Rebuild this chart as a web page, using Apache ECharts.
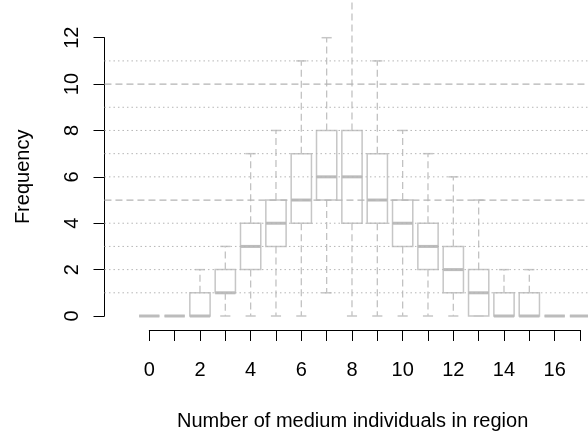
<!DOCTYPE html>
<html>
<head>
<meta charset="utf-8">
<script src="https://cdn.jsdelivr.net/npm/echarts@6/dist/echarts.min.js"></script>
<style>
  html, body { margin: 0; padding: 0; background: #fff; }
  #chart { width: 588px; height: 431px; }
</style>
</head>
<body>
<div id="chart"></div>
<script>
// counts per region, one box per category
const categories = [0, 1, 2, 3, 4, 5, 6, 7, 8, 9, 10, 11, 12, 13, 14, 15, 16, 17];
const mins    = [0, 0, 0, 0, 0, 0, 0, 1, 0, 0, 0, 0, 0, 0, 0, 0, 0, 0];
const q1s     = [0, 0, 0, 1, 2, 3, 4, 5, 4, 4, 3, 2, 1, 0, 0, 0, 0, 0];
const medians = [0, 0, 0, 1, 3, 4, 5, 6, 6, 5, 4, 3, 2, 1, 0, 0, 0, 0];
const q3s     = [0, 0, 1, 2, 4, 5, 7, 8, 8, 7, 5, 4, 3, 2, 1, 1, 0, 0];
const maxs    = [0, 0, 2, 3, 7, 8, 11, 12, 14, 11, 8, 7, 6, 5, 2, 2, 0, 0];

const yTicks = [0, 2, 4, 6, 8, 10, 12];
const dottedLevels = [1, 2, 3, 4, 6, 7, 8, 9, 11];
const dashedLevels = [5, 10];

const FONT = 'Liberation Sans, Arial, sans-serif';
const BOX_WIDTH = 0.8;   // in category units
const GRID_FROM = -1.77; // grid lines start at the y axis
const GRID_TO = 18;

const boxData = categories.map((c, i) => [c, mins[i], q1s[i], medians[i], q3s[i], maxs[i]]);

function renderBox(params, api) {
  const x = api.value(0);
  const w = api.size([BOX_WIDTH, 0])[0];
  const cap = w / 2;
  const p = k => api.coord([x, api.value(k)]);
  const pMin = p(1), pQ1 = p(2), pMed = p(3), pQ3 = p(4), pMax = p(5);
  const cx = pMed[0];
  const whisker = { stroke: '#c2c2c2', lineWidth: 1.3, lineDash: [7, 4] };
  const solid = { stroke: '#c6c6c6', lineWidth: 1.5, fill: null };
  return {
    type: 'group',
    children: [
      { type: 'line', shape: { x1: cx, y1: pQ3[1], x2: cx, y2: pMax[1] }, style: whisker },
      { type: 'line', shape: { x1: cx, y1: pQ1[1], x2: cx, y2: pMin[1] }, style: whisker },
      { type: 'line', shape: { x1: cx - cap / 2, y1: pMax[1], x2: cx + cap / 2, y2: pMax[1] }, style: solid },
      { type: 'line', shape: { x1: cx - cap / 2, y1: pMin[1], x2: cx + cap / 2, y2: pMin[1] }, style: solid },
      { type: 'rect', shape: { x: cx - w / 2, y: pQ3[1], width: w, height: pQ1[1] - pQ3[1] }, style: solid },
      { type: 'line', shape: { x1: cx - w / 2, y1: pMed[1], x2: cx + w / 2, y2: pMed[1] },
        style: { stroke: '#bcbcbc', lineWidth: 3 } }
    ]
  };
}

function gridLines(levels, style) {
  return {
    type: 'custom',
    z: 5,
    data: levels.map(v => [0, v]),
    encode: { x: 0, y: 1 },
    renderItem: (params, api) => {
      const a = api.coord([GRID_FROM, api.value(1)]);
      const b = api.coord([GRID_TO, api.value(1)]);
      return { type: 'line', shape: { x1: a[0], y1: a[1], x2: b[0], y2: b[1] }, style };
    }
  };
}

const chart = echarts.init(document.getElementById('chart'));
chart.setOption({
  animation: false,
  backgroundColor: '#fff',
  grid: { left: 149.3, right: 8, top: 37.7, bottom: 115, containLabel: false, outerBoundsMode: 'none' },
  xAxis: {
    type: 'value',
    min: 0,
    max: 17,
    interval: 1,
    offset: 14,
    axisLine: { onZero: false, lineStyle: { color: '#000', width: 1 } },
    axisTick: { length: 11, lineStyle: { color: '#000' } },
    axisLabel: {
      margin: 30,
      color: '#000',
      fontFamily: FONT,
      fontSize: 20,
      formatter: v => (v % 2 === 0 ? String(v) : '')
    },
    splitLine: { show: false },
    name: 'Number of medium individuals in region',
    nameLocation: 'middle',
    nameGap: 81,
    nameTextStyle: { color: '#000', fontFamily: FONT, fontSize: 20, padding: [0, 24, 0, 0] }
  },
  yAxis: {
    type: 'value',
    min: 0,
    max: 12,
    interval: 2,
    offset: 44.8,
    axisLine: { show: true, onZero: false, lineStyle: { color: '#000', width: 1 } },
    axisTick: { show: true, length: 11, lineStyle: { color: '#000' }, customValues: yTicks },
    axisLabel: {
      rotate: 90,
      margin: 32.5,
      align: 'center',
      verticalAlign: 'middle',
      color: '#000',
      fontFamily: FONT,
      fontSize: 20,
      customValues: yTicks
    },
    splitLine: { show: false },
    name: 'Frequency',
    nameLocation: 'middle',
    nameGap: 71,
    nameRotate: 90,
    nameTextStyle: { color: '#000', fontFamily: FONT, fontSize: 20 }
  },
  series: [
    {
      type: 'custom',
      z: 2,
      data: boxData,
      encode: { x: 0, y: [1, 2, 3, 4, 5] },
      renderItem: renderBox
    },
    gridLines(dottedLevels, { stroke: '#b5b5b5', lineWidth: 1, lineDash: [1.5, 3] }),
    gridLines(dashedLevels, { stroke: '#b4b4b4', lineWidth: 1.2, lineDash: [7, 4] })
  ]
});
</script>
</body>
</html>
